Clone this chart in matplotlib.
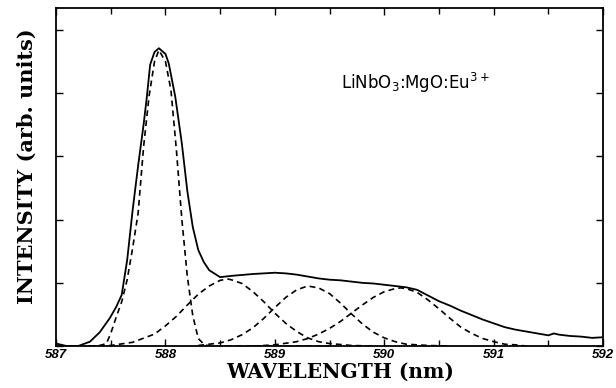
import numpy as np
import matplotlib
matplotlib.use("Agg")
import matplotlib.pyplot as plt
from matplotlib.ticker import MultipleLocator

plt.rcParams['mathtext.default'] = 'regular'

# measured spectrum (solid)
wl = [587.00, 587.05, 587.10, 587.20, 587.31, 587.40, 587.49, 587.55, 587.60, 587.65,
      587.70, 587.75, 587.80, 587.83, 587.86, 587.90, 587.94, 588.00, 588.03, 588.09,
      588.15, 588.20, 588.25, 588.30, 588.35, 588.40, 588.50, 588.60, 588.80, 589.00,
      589.10, 589.20, 589.30, 589.40, 589.50, 589.60, 589.70, 589.80, 589.90, 590.00,
      590.10, 590.20, 590.30, 590.40, 590.50, 590.60, 590.70, 590.80, 590.90, 591.00,
      591.10, 591.20, 591.30, 591.40, 591.50, 591.55, 591.60, 591.70, 591.80, 591.90,
      592.00]
intensity = [0.04, 0.02, 0.00, 0.00, 0.07, 0.22, 0.44, 0.62, 0.81, 1.36,
             2.15, 2.85, 3.50, 3.94, 4.45, 4.65, 4.71, 4.62, 4.47, 3.94,
             3.20, 2.45, 1.88, 1.52, 1.33, 1.20, 1.09, 1.11, 1.14, 1.16,
             1.15, 1.13, 1.10, 1.07, 1.05, 1.04, 1.02, 1.00, 0.99, 0.97,
             0.95, 0.93, 0.89, 0.80, 0.71, 0.64, 0.56, 0.49, 0.42, 0.36,
             0.30, 0.26, 0.23, 0.20, 0.17, 0.20, 0.18, 0.16, 0.15, 0.13,
             0.14]

# fitted components (dashed)
wl_1 = [587.30, 587.40, 587.46, 587.50, 587.55, 587.60, 587.65, 587.70, 587.75, 587.80,
        587.85, 587.90, 587.94, 588.00, 588.05, 588.10, 588.15, 588.20, 588.25, 588.30,
        588.35, 588.40, 588.60, 589.00, 589.50]
comp_1 = [0.00, 0.01, 0.04, 0.20, 0.46, 0.70, 1.05, 1.55, 2.10, 3.15,
          3.95, 4.50, 4.68, 4.50, 4.05, 3.10, 2.00, 1.10, 0.48, 0.12,
          0.03, 0.00, 0.00, 0.00, 0.00]

wl_2 = [587.30, 587.50, 587.70, 587.90, 588.00, 588.10, 588.20, 588.30, 588.40, 588.50,
        588.57, 588.60, 588.70, 588.80, 588.90, 589.00, 589.10, 589.20, 589.30, 589.40,
        589.50, 589.70, 589.90]
comp_2 = [0.00, 0.01, 0.06, 0.19, 0.32, 0.47, 0.65, 0.82, 0.95, 1.04,
          1.06, 1.05, 0.99, 0.86, 0.70, 0.52, 0.36, 0.23, 0.13, 0.07,
          0.04, 0.01, 0.00]

wl_3 = [588.30, 588.50, 588.60, 588.70, 588.80, 588.90, 589.00, 589.10, 589.20, 589.30,
        589.40, 589.50, 589.60, 589.70, 589.80, 589.90, 590.00, 590.10, 590.20, 590.40,
        590.60]
comp_3 = [0.01, 0.05, 0.10, 0.18, 0.29, 0.44, 0.61, 0.77, 0.89, 0.95,
          0.92, 0.83, 0.68, 0.51, 0.35, 0.22, 0.13, 0.07, 0.03, 0.01,
          0.00]

wl_4 = [588.80, 589.00, 589.20, 589.30, 589.40, 589.50, 589.60, 589.70, 589.80, 589.90,
        590.00, 590.10, 590.15, 590.20, 590.30, 590.40, 590.50, 590.60, 590.70, 590.80,
        590.90, 591.00, 591.10, 591.20, 591.30]
comp_4 = [0.00, 0.02, 0.07, 0.12, 0.19, 0.28, 0.39, 0.52, 0.65, 0.77,
          0.86, 0.91, 0.92, 0.91, 0.85, 0.73, 0.59, 0.44, 0.30, 0.20,
          0.12, 0.07, 0.03, 0.02, 0.00]

xticks = [587, 588, 589, 590, 591, 592]

fig = plt.figure(figsize=(6.16, 3.88), dpi=100)
ax = fig.add_axes([0.091, 0.108, 0.888, 0.872])

ax.plot(wl, intensity, color='black', lw=1.3)
dash = (0, (3.5, 2.5))
for x, y in [(wl_1, comp_1), (wl_2, comp_2), (wl_3, comp_3), (wl_4, comp_4)]:
    ax.plot(x, y, color='black', lw=1.2, linestyle=dash)

ax.set_xlim(587, 592)
ax.set_ylim(0, 5.35)
ax.set_xticks(xticks)
ax.xaxis.set_minor_locator(MultipleLocator(0.5))
ax.yaxis.set_major_locator(MultipleLocator(1))
ax.set_yticklabels([])
ax.tick_params(which='both', direction='in', top=True, right=True, width=1.0)
ax.tick_params(which='major', length=5, pad=2)
ax.tick_params(which='minor', length=4)
for lab in ax.get_xticklabels():
    lab.set_fontfamily('Liberation Sans')
    lab.set_fontweight('heavy')
    lab.set_fontstyle('italic')
    lab.set_fontsize(9.5)
for sp in ax.spines.values():
    sp.set_linewidth(1.3)

ax.set_xlabel('WAVELENGTH (nm)', fontfamily='DejaVu Serif', fontweight='bold',
              fontsize=14.5, labelpad=1)
ax.set_ylabel('INTENSITY (arb. units)', fontfamily='DejaVu Serif', fontweight='bold',
              fontsize=15, labelpad=12)
ax.xaxis.label.set_x(0.52)
ax.yaxis.label.set_y(0.533)

ax.text(0.52, 0.76, r'LiNbO$_3$:MgO:Eu$^{3+}$', transform=ax.transAxes,
        fontsize=12, fontfamily='DejaVu Sans', ha='left', va='baseline')

fig.savefig('out.png', dpi=100)
